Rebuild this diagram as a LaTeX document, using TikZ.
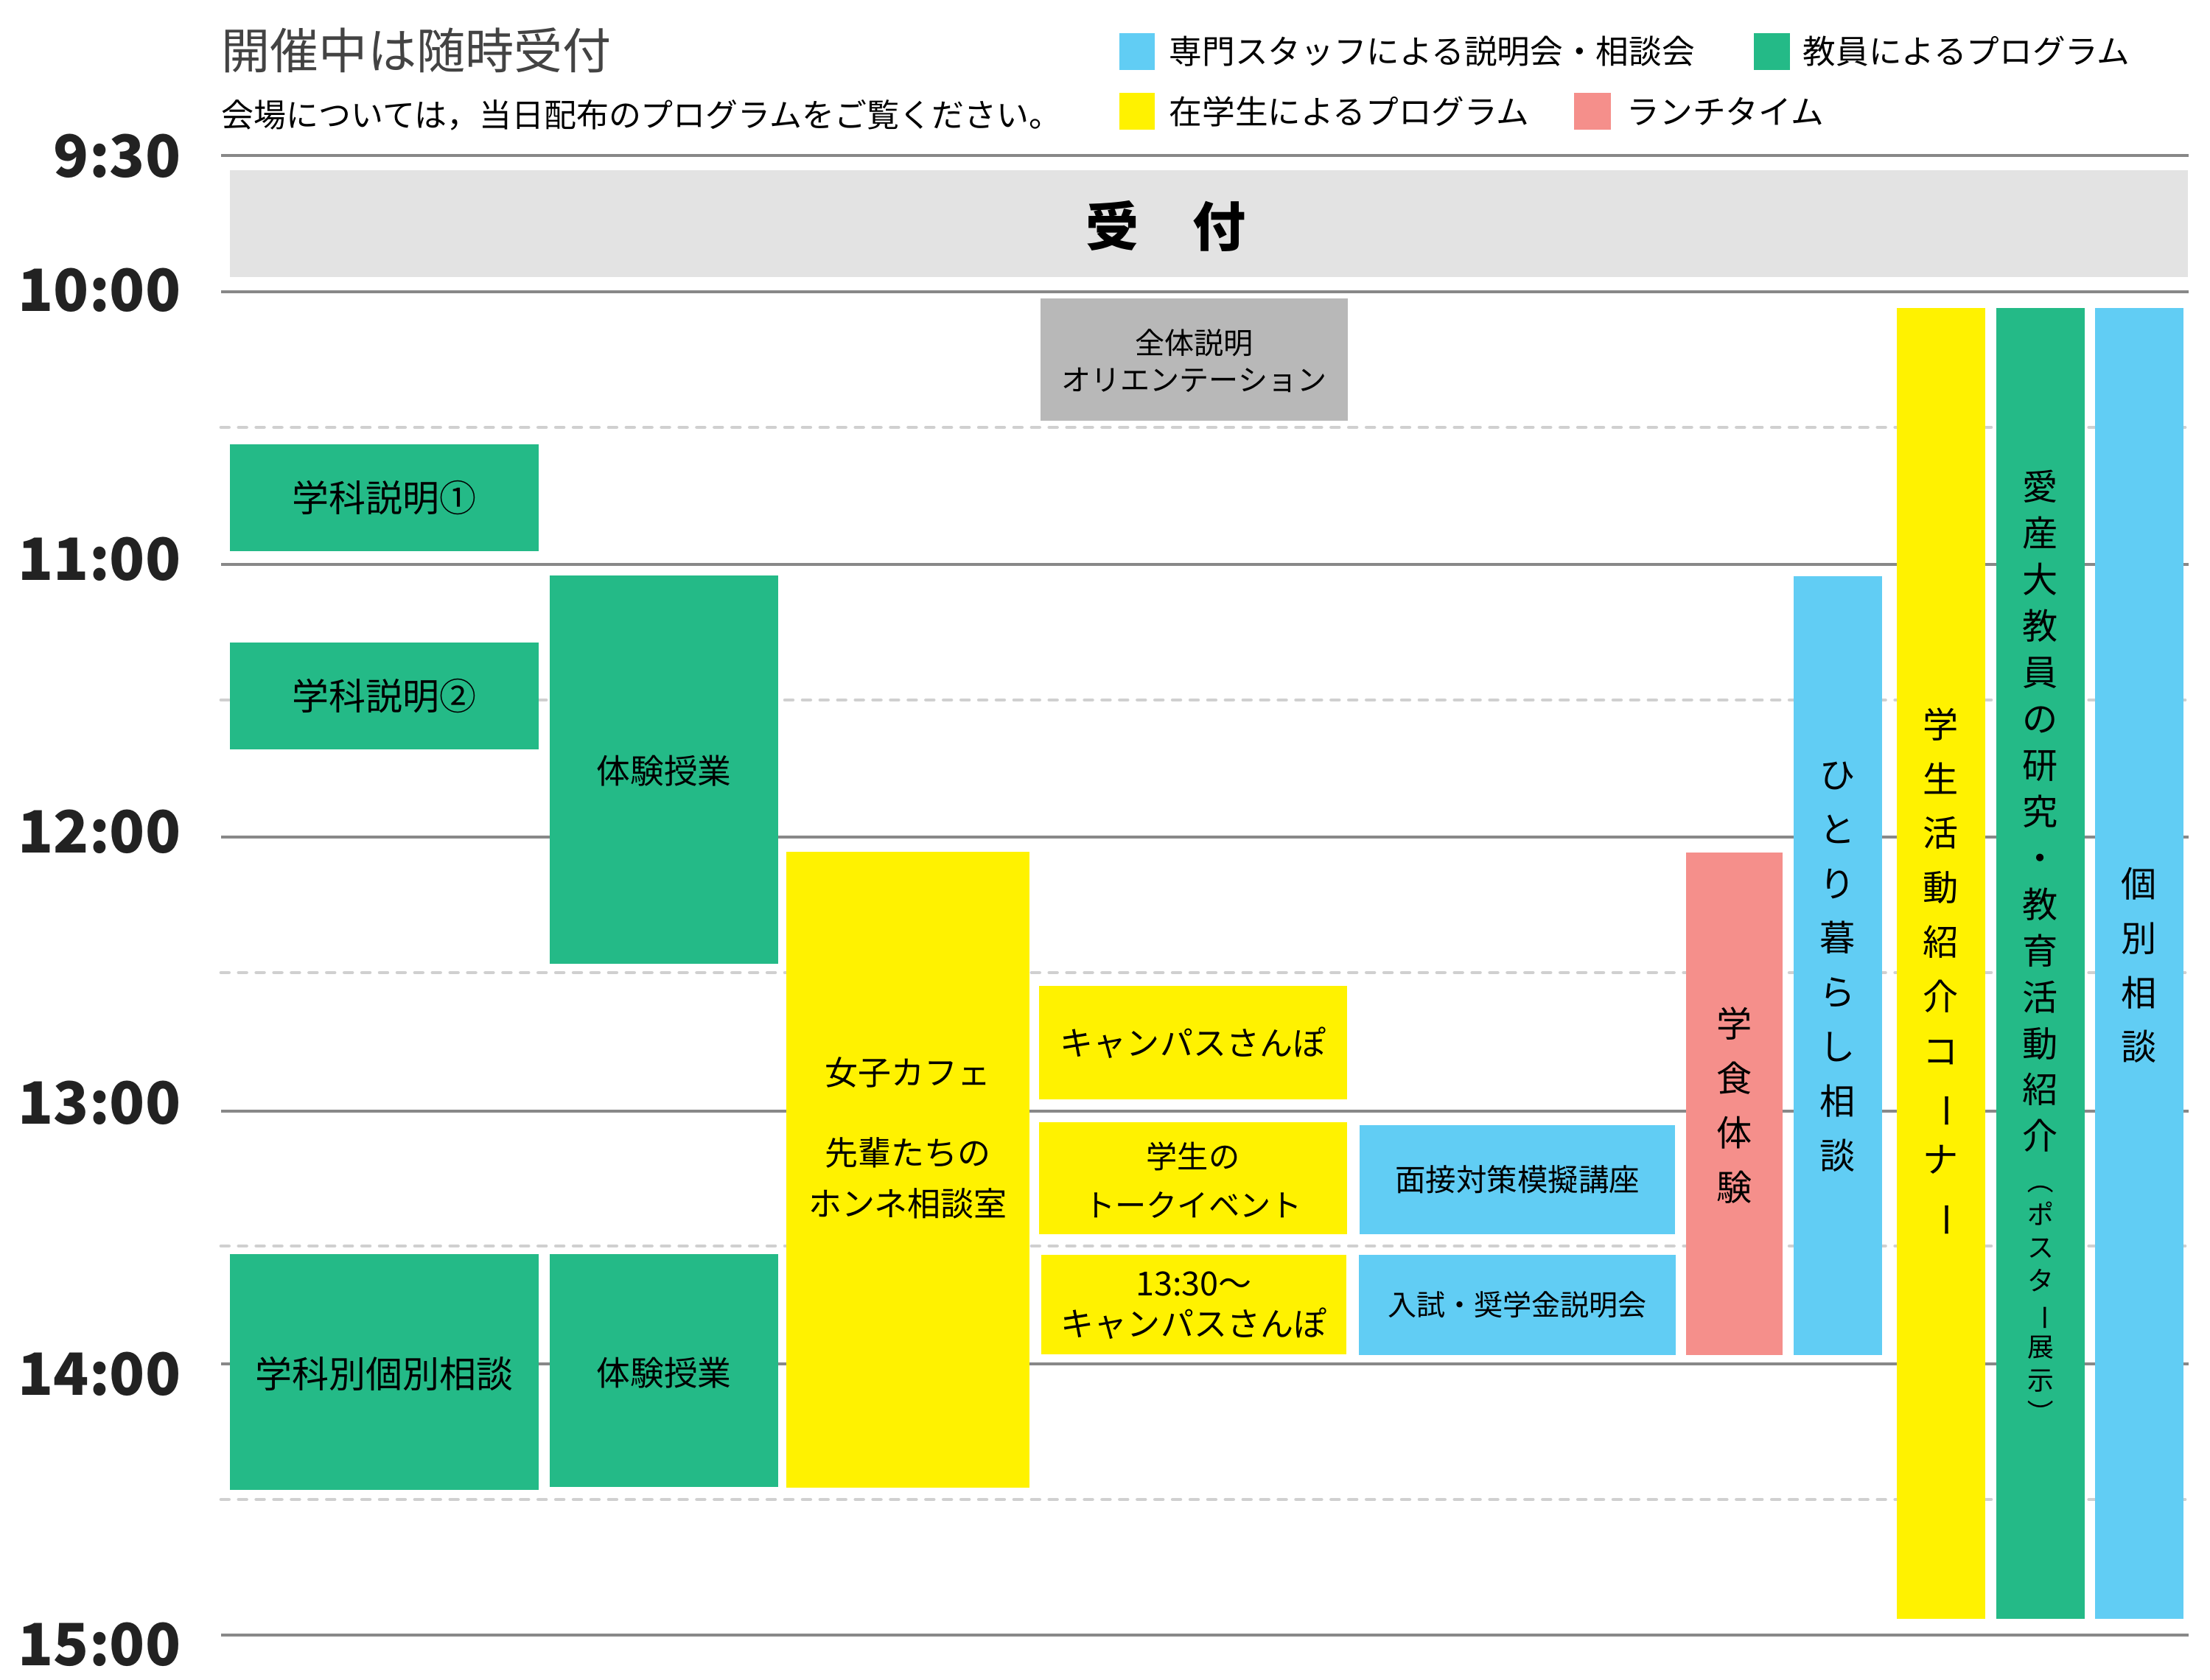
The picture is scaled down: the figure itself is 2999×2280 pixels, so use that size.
\documentclass[tikz,border=0pt]{standalone}
\usepackage{fontspec}
\setmainfont{Noto Sans CJK JP}
\definecolor{staffblue}{HTML}{61CDF4}
\definecolor{teachgreen}{HTML}{24BA87}
\definecolor{pupilyellow}{HTML}{FFF200}
\definecolor{lunchpink}{HTML}{F58F8B}
\definecolor{deskgray}{HTML}{E3E3E3}
\definecolor{oriengray}{HTML}{B8B8B8}
\definecolor{hourgray}{HTML}{888888}
\definecolor{halfgray}{HTML}{D0D0D0}
\definecolor{ink}{HTML}{222222}
\newcommand{\fsz}[2]{\fontsize{#1pt}{#2pt}\selectfont}
\newcommand{\tate}{\rotatebox[origin=c]{-90}}

\begin{document}
\begin{tikzpicture}[x=0.01cm,y=-0.01cm,
  hour/.style={hourgray,line width=1.4pt},
  half/.style={halfgray,line width=1.4pt,line cap=round,dash pattern=on 3pt off 3.8pt},
  clock/.style={anchor=east,inner sep=0pt,text=ink,font=\fsz{22.5}{27}\bfseries},
  legend/.style={anchor=west,inner sep=0pt,font=\fsz{12.7}{15}},
  lbl/.style={align=center,inner sep=0pt,font=\fsz{13}{18}},
  tatelbl/.style={align=center,inner sep=0pt,font=\fsz{13.7}{21}}]

\useasboundingbox (0,0) rectangle (2999,2280);

% heading and colour key
\node[anchor=west,inner sep=0pt,text=ink!85,font=\fsz{18.8}{22}] (title) at (300,68) {開催中は随時受付};
\node[anchor=west,inner sep=0pt,font=\fsz{12.5}{15}] (note) at (300,156) {会場については，当日配布のプログラムをご覧ください。};

\fill[staffblue] (1519,45) rectangle (1567,95);
\node[legend] (keystaff) at (1586,70) {専門スタッフによる説明会・相談会};
\fill[teachgreen] (2380,45) rectangle (2429,95);
\node[legend] (keyteach) at (2446,70) {教員によるプログラム};
\fill[pupilyellow] (1519,126) rectangle (1567,176);
\node[legend] (keypupil) at (1586,151) {在学生によるプログラム};
\fill[lunchpink] (2136,126) rectangle (2186,176);
\node[legend] (keylunch) at (2207,151) {ランチタイム};

% time grid
\foreach \y in {211,396,766,1136,1508,1851,2219}
  \draw[hour] (300,\y) -- (2970,\y);
\foreach \y in {580,950,1320,1691,2035}
  \draw[half] (300,\y) -- (2970,\y);

\node[clock] (t0930) at (246,212) {9:30};
\node[clock] (t1000) at (246,394) {10:00};
\node[clock] (t1100) at (246,759) {11:00};
\node[clock] (t1200) at (246,1129) {12:00};
\node[clock] (t1300) at (246,1497) {13:00};
\node[clock] (t1400) at (246,1865) {14:00};
\node[clock] (t1500) at (246,2232) {15:00};

% reception
\fill[deskgray] (312,231) rectangle (2969,376);
\node[inner sep=0pt,font=\fsz{20.5}{24}\bfseries] (desk) at (1582,307) {受　付};

% faculty programmes
\fill[teachgreen] (312,603) rectangle (731,748);
\node[lbl,font=\fsz{14.2}{18}] (dept1) at (521.5,675.5) {学科説明①};
\fill[teachgreen] (312,872) rectangle (731,1017);
\node[lbl,font=\fsz{14.2}{18}] (dept2) at (521.5,944.5) {学科説明②};
\fill[teachgreen] (312,1702) rectangle (731,2022);
\node[lbl,font=\fsz{14.2}{18}] (deptchat) at (521.5,1864) {学科別個別相談};
\fill[teachgreen] (746,781) rectangle (1056,1308);
\node[lbl] (trial1) at (901,1046) {体験授業};
\fill[teachgreen] (746,1702) rectangle (1056,2018);
\node[lbl] (trial2) at (901,1863) {体験授業};

% orientation
\fill[oriengray] (1412,405) rectangle (1829,571);
\node[lbl,font=\fsz{11.4}{14.2}] (orient) at (1620.5,490) {全体説明\\オリエンテーション};

% student programmes
\fill[pupilyellow] (1067,1156) rectangle (1397,2019);
\node[lbl,font=\fsz{12.8}{19.6}] (cafe) at (1232,1544) {女子カフェ\\[11.4pt]先輩たちの\\ホンネ相談室};
\fill[pupilyellow] (1410,1338) rectangle (1828,1492);
\node[lbl,font=\fsz{12.8}{16}] (walk1) at (1619,1415) {キャンパスさんぽ};
\fill[pupilyellow] (1410,1523) rectangle (1828,1675);
\node[lbl,font=\fsz{12}{18.8}] (talk) at (1619,1602) {学生の\\トークイベント};
\fill[pupilyellow] (1413,1703) rectangle (1827,1838);
\node[lbl,font=\fsz{12.8}{15.6}] (walk2) at (1620,1772) {13:30〜\\キャンパスさんぽ};

% staff sessions
\fill[staffblue] (1845,1527) rectangle (2273,1675);
\node[lbl,font=\fsz{11.8}{15}] (interview) at (2059,1601) {面接対策模擬講座};
\fill[staffblue] (1844,1703) rectangle (2274,1839);
\node[lbl,font=\fsz{11.1}{14}] (exam) at (2059,1771) {入試・奨学金説明会};

% upright columns
\fill[lunchpink] (2288,1157) rectangle (2419,1839);
\node[tatelbl] (canteen) at (2353.5,1500) {学\\食\\体\\験};
\fill[staffblue] (2434,782) rectangle (2554,1839);
\node[tatelbl] (living) at (2494,1312) {ひ\\と\\り\\暮\\ら\\し\\相\\談};
\fill[pupilyellow] (2574,418) rectangle (2694,2197);
\node[tatelbl] (clubs) at (2634,1320) {学\\生\\活\\動\\紹\\介\\コ\\\tate{ー}\\ナ\\\tate{ー}};
\fill[teachgreen] (2709,418) rectangle (2829,2197);
\node[tatelbl,font=\fsz{13.7}{17.9}] (research) at (2769,1101)
  {愛\\産\\大\\教\\員\\の\\研\\究\\・\\教\\育\\活\\動\\紹\\介};
\node[tatelbl,font=\fsz{10.2}{12.8}] (poster) at (2769,1760)
  {\tate{（}\\ポ\\ス\\タ\\\tate{ー}\\展\\示\\\tate{）}};
\fill[staffblue] (2843,418) rectangle (2963,2197);
\node[tatelbl] (consult) at (2903,1310) {個\\別\\相\\談};

\end{tikzpicture}
\end{document}
